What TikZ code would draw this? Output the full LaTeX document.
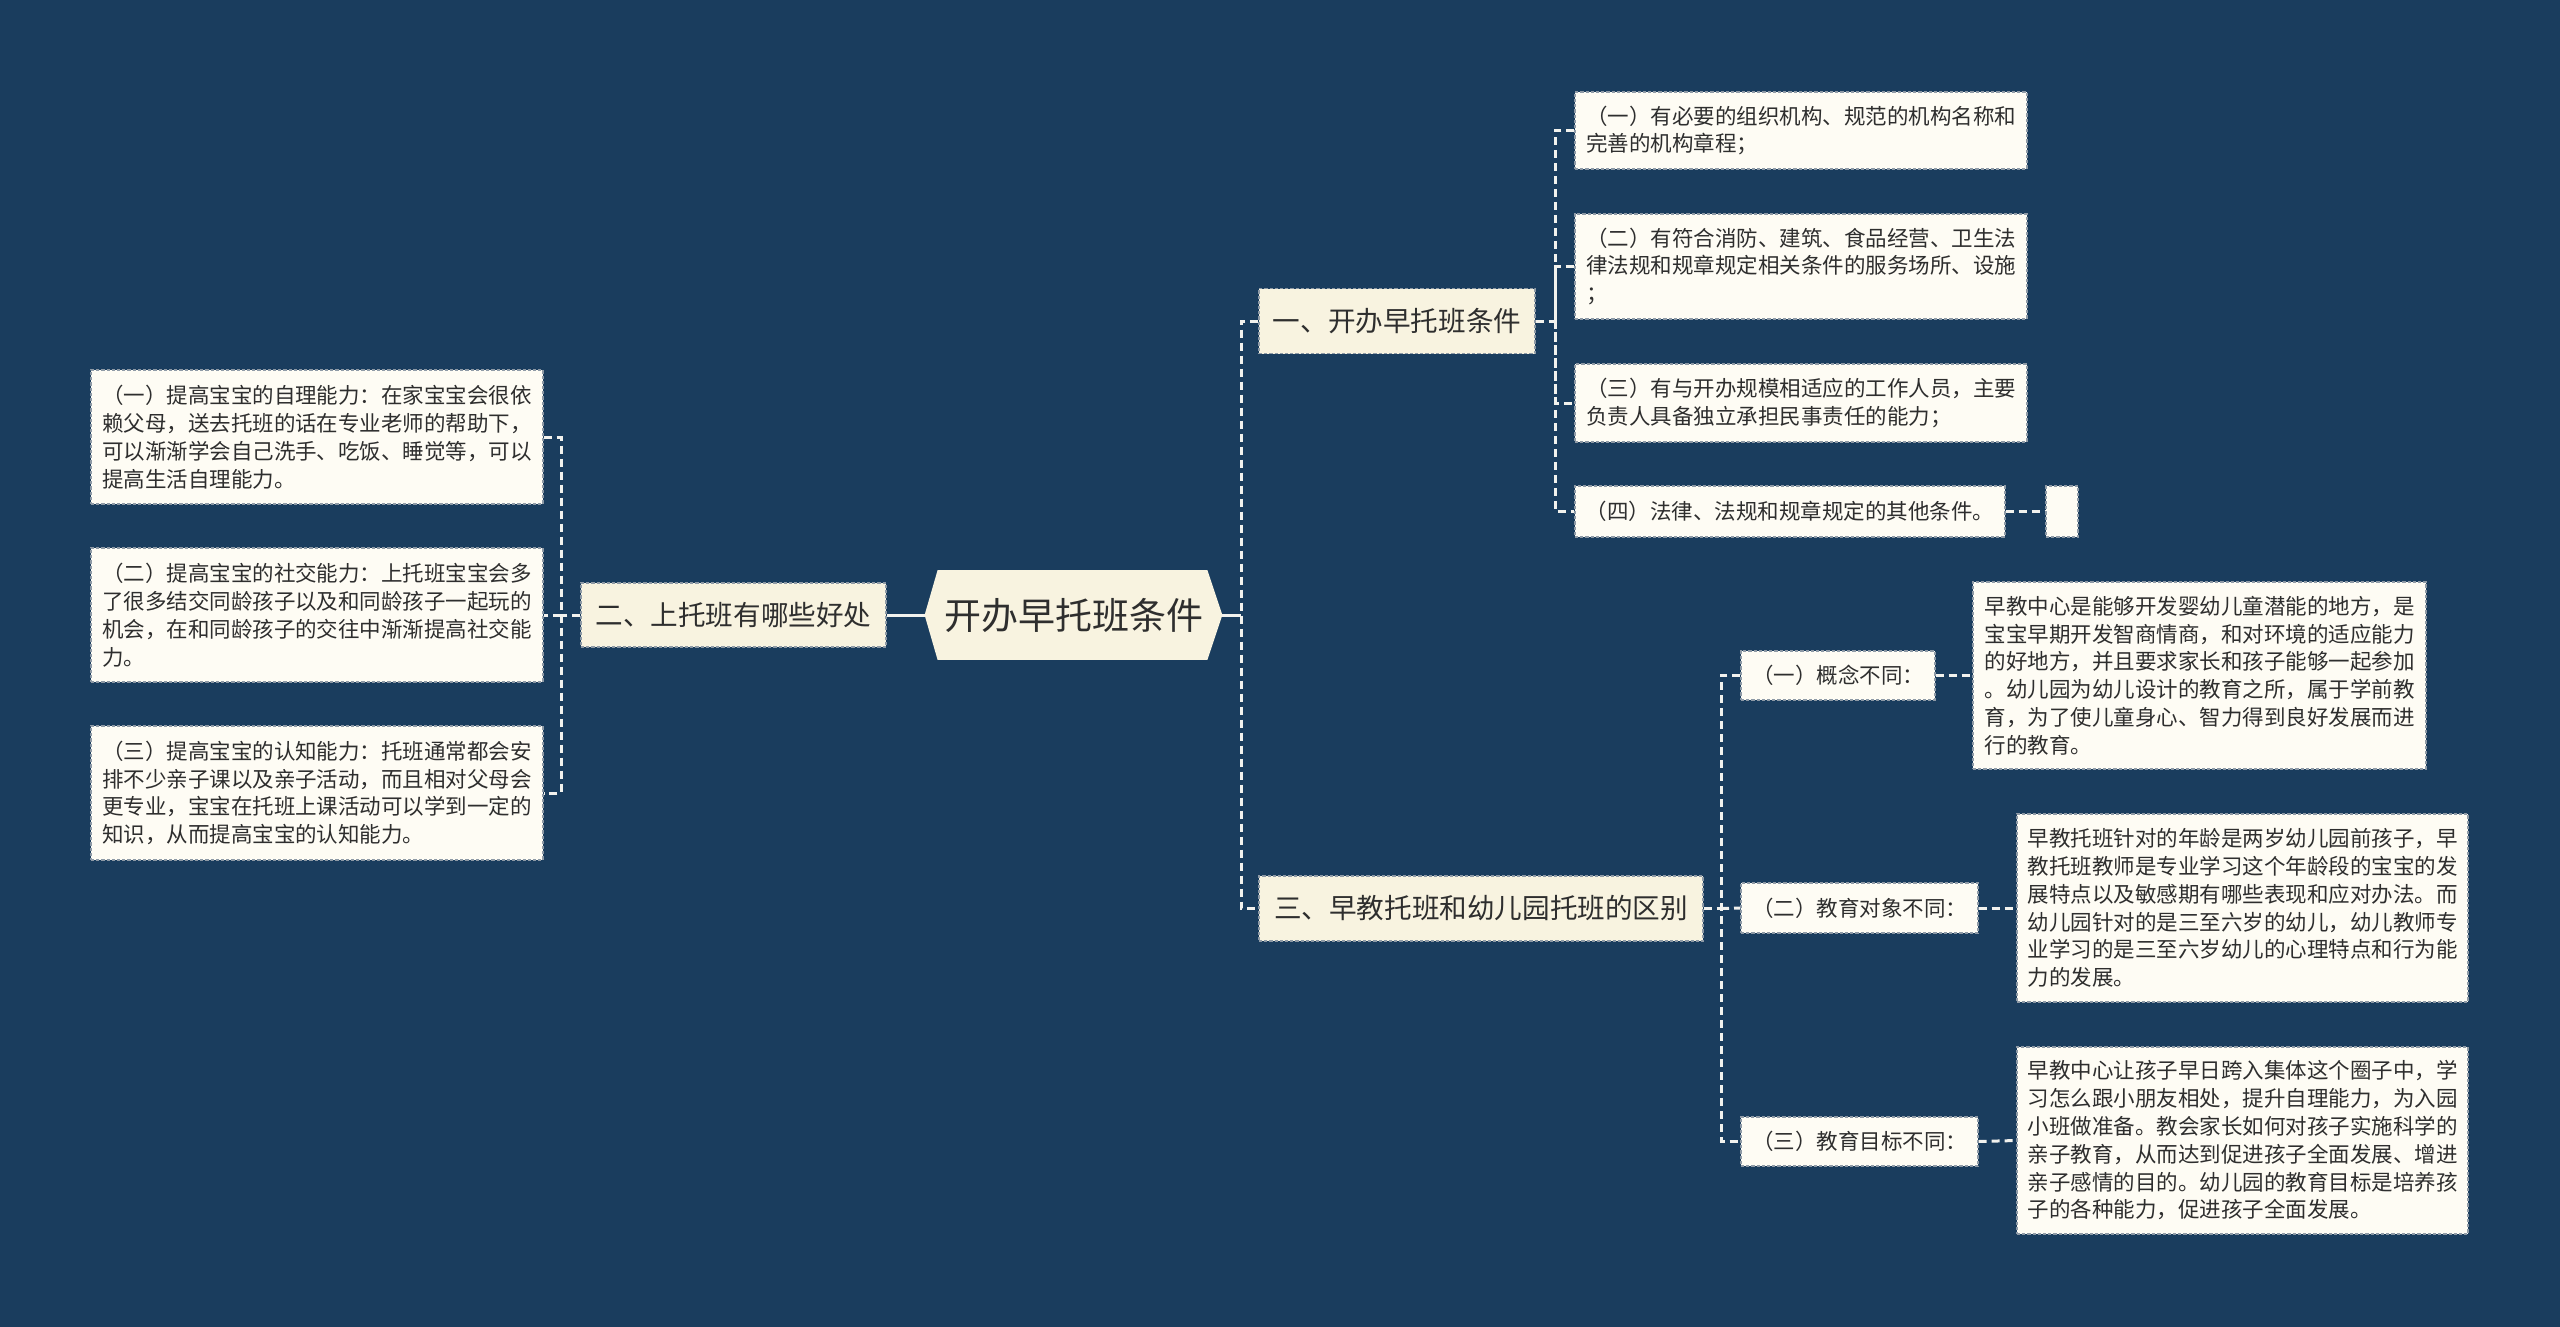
\documentclass[tikz,border=0pt]{standalone}
\usepackage{fontspec}
\setmainfont{Noto Sans CJK SC}
\usetikzlibrary{calc,backgrounds}
\definecolor{bg}{HTML}{1A3D5E}
\definecolor{leaffill}{HTML}{FEFCF4}
\definecolor{branchfill}{HTML}{F8F3E0}
\definecolor{rootfill}{HTML}{F8F3E0}
\definecolor{edgecol}{HTML}{8E9AA6}
\definecolor{txt}{HTML}{2E2E2E}
\definecolor{linecol}{HTML}{F2F2EE}
\begin{document}
\begin{tikzpicture}[x=0.5pt,y=-0.5pt,
  box/.style 2 args={minimum width=#1*0.5pt, minimum height=#2*0.5pt},
  leaf/.style={fill=leaffill, draw=edgecol, line width=0.6pt, dash pattern=on 1.6pt off 1pt,
    inner sep=0pt, align=left, text=txt, font=\fontsize{10.75pt}{13.9pt}\selectfont},
  sub/.style={leaf},
  branch/.style={fill=branchfill, draw=edgecol, line width=0.6pt, dash pattern=on 1.6pt off 1pt,
    inner sep=0pt, text=txt, font=\fontsize{13.8pt}{16pt}\selectfont},
  conn/.style={draw=linecol, line width=1.5pt, dash pattern=on 4pt off 2.5pt},
  solidconn/.style={draw=linecol, line width=1.5pt}]
\begin{scope}[on background layer]
\fill[bg] (0,0) rectangle (2560,1327);
\end{scope}
\useasboundingbox (0,0) rectangle (2560,1327);

% root
\node[inner sep=0pt, box={297}{89}, text=txt, font=\fontsize{18.5pt}{22pt}\selectfont] (root) at (1073.5,615) {开办早托班条件};
\begin{scope}[on background layer]
\fill[rootfill] (root.west) -- ($(root.north west)+(13,0)$) -- ($(root.north east)+(-15,0)$) -- (root.east)
  -- ($(root.south east)+(-15,0)$) -- ($(root.south west)+(13,0)$) -- cycle;
\end{scope}

% branches
\node[branch, box={305}{64}] (B2) at (733.5,615) {二、上托班有哪些好处};
\node[branch, box={276}{65}] (B1) at (1397,321) {一、开办早托班条件};
\node[branch, box={444}{65}] (B3) at (1481,908.5) {三、早教托班和幼儿园托班的区别};

% branch 1 leaves
\node[leaf, box={452}{77}] (L11) at (1801,130.5) {（一）有必要的组织机构、规范的机构名称和\\完善的机构章程；};
\node[leaf, box={452}{105}] (L12) at (1801,266.5) {（二）有符合消防、建筑、食品经营、卫生法\\律法规和规章规定相关条件的服务场所、设施\\；};
\node[leaf, box={452}{78}] (L13) at (1801,403) {（三）有与开办规模相适应的工作人员，主要\\负责人具备独立承担民事责任的能力；};
\node[leaf, box={430}{51}] (L14) at (1790,511.5) {（四）法律、法规和规章规定的其他条件。};
\node[leaf, box={32}{51}] (E) at (2062,511.5) {};

% branch 2 leaves
\node[leaf, box={452}{134}] (L21) at (317,437) {（一）提高宝宝的自理能力：在家宝宝会很依\\赖父母，送去托班的话在专业老师的帮助下，\\可以渐渐学会自己洗手、吃饭、睡觉等，可以\\提高生活自理能力。};
\node[leaf, box={452}{134}] (L22) at (317,615) {（二）提高宝宝的社交能力：上托班宝宝会多\\了很多结交同龄孩子以及和同龄孩子一起玩的\\机会，在和同龄孩子的交往中渐渐提高社交能\\力。};
\node[leaf, box={452}{134}] (L23) at (317,793) {（三）提高宝宝的认知能力：托班通常都会安\\排不少亲子课以及亲子活动，而且相对父母会\\更专业，宝宝在托班上课活动可以学到一定的\\知识，从而提高宝宝的认知能力。};

% branch 3 sub nodes
\node[sub, box={194}{49}] (S1) at (1838,675.5) {（一）概念不同：};
\node[sub, box={237}{50}] (S2) at (1859.5,908) {（二）教育对象不同：};
\node[sub, box={237}{49}] (S3) at (1859.5,1141.5) {（三）教育目标不同：};

\node[leaf, box={453}{187}] (M1) at (2199.5,675.5) {早教中心是能够开发婴幼儿童潜能的地方，是\\宝宝早期开发智商情商，和对环境的适应能力\\的好地方，并且要求家长和孩子能够一起参加\\。幼儿园为幼儿设计的教育之所，属于学前教\\育，为了使儿童身心、智力得到良好发展而进\\行的教育。};
\node[leaf, box={451}{188}] (M2) at (2242.5,908) {早教托班针对的年龄是两岁幼儿园前孩子，早\\教托班教师是专业学习这个年龄段的宝宝的发\\展特点以及敏感期有哪些表现和应对办法。而\\幼儿园针对的是三至六岁的幼儿，幼儿教师专\\业学习的是三至六岁幼儿的心理特点和行为能\\力的发展。};
\node[leaf, box={451}{187}] (M3) at (2242.5,1140.5) {早教中心让孩子早日跨入集体这个圈子中，学\\习怎么跟小朋友相处，提升自理能力，为入园\\小班做准备。教会家长如何对孩子实施科学的\\亲子教育，从而达到促进孩子全面发展、增进\\亲子感情的目的。幼儿园的教育目标是培养孩\\子的各种能力，促进孩子全面发展。};

% junctions
\coordinate (jR) at (1241,615);
\coordinate (j1) at (1555,321);
\coordinate (j2) at (561,615);
\coordinate (j3) at (1721,908.5);

% connectors
\begin{scope}[on background layer]
\draw[solidconn] (B2.east) -- (root.west);
\draw[solidconn] (root.east) -- (jR);
\draw[conn] (B1.west) -| (jR) |- (B3.west);

\draw[conn] (B1.east) -- (j1);
\draw[conn] (L11.west) -| (j1) |- (L14.west);
\draw[conn] (j1) |- (L12.west);
\draw[conn] (j1) |- (L13.west);
\draw[conn] (L14.east) -- (E.west);

\draw[conn] (B2.west) -- (j2);
\draw[conn] (L21.east) -| (j2) |- (L23.east);
\draw[conn] (j2) -- (L22.east);

\draw[conn] (B3.east) -- (j3);
\draw[conn] (S1.west) -| (j3) |- (S3.west);
\draw[conn] (j3) -- (S2.west);
\draw[conn] (S1.east) -- (M1.west);
\draw[conn] (S2.east) -- (M2.west);
\draw[conn] (S3.east) -- (M3.west);
\end{scope}
\end{tikzpicture}
\end{document}
